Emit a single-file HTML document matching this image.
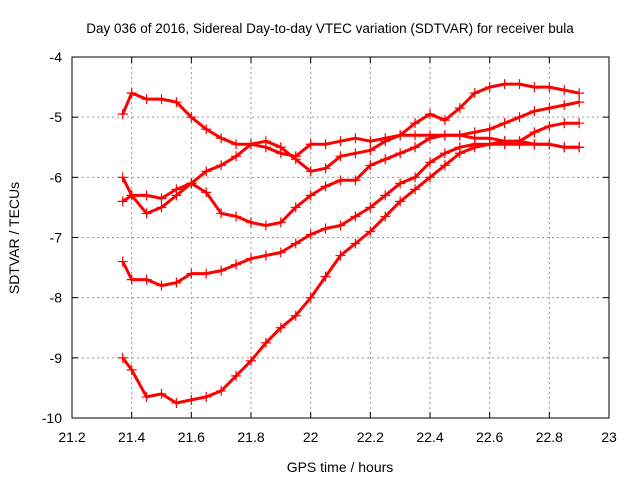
<!DOCTYPE html>
<html><head><meta charset="utf-8"><style>
body{margin:0;background:#fff;}
text{font-family:"Liberation Sans",sans-serif;font-size:14px;fill:#000;}
</style></head><body>
<svg id="chart" width="640" height="480">
<rect width="640" height="480" fill="#fff"/>
<text x="330" y="33" text-anchor="middle" style="font-size:13.5px">Day 036 of 2016, Sidereal Day-to-day VTEC variation (SDTVAR) for receiver bula</text>
<text x="340" y="472" text-anchor="middle">GPS time / hours</text>
<text transform="translate(19,238) rotate(-90)" text-anchor="middle">SDTVAR / TECUs</text>
<g id="grid"></g><g id="series"></g>
<rect x="72" y="57" width="537" height="361" fill="none" stroke="#000" stroke-width="1"/>
</svg>
<script>
const xTicks=[21.2,21.4,21.6,21.8,22,22.2,22.4,22.6,22.8,23];
const yTicks=[-4,-5,-6,-7,-8,-9,-10];
const times=[21.37,21.40,21.45,21.50,21.55,21.60,21.65,21.70,21.75,21.80,21.85,21.90,21.95,22.00,22.05,22.10,22.15,22.20,22.25,22.30,22.35,22.40,22.45,22.50,22.55,22.60,22.65,22.70,22.75,22.80,22.85,22.90];
const seriesA=[-4.95,-4.6,-4.7,-4.7,-4.75,-5.0,-5.2,-5.35,-5.45,-5.45,-5.5,-5.6,-5.65,-5.45,-5.45,-5.4,-5.35,-5.4,-5.35,-5.3,-5.3,-5.3,-5.3,-5.3,-5.35,-5.35,-5.4,-5.4,-5.45,-5.45,-5.5,-5.5];
const seriesB=[-6.4,-6.3,-6.3,-6.35,-6.2,-6.1,-5.9,-5.8,-5.65,-5.45,-5.4,-5.5,-5.7,-5.9,-5.85,-5.65,-5.6,-5.55,-5.4,-5.3,-5.1,-4.95,-5.05,-4.85,-4.6,-4.5,-4.45,-4.45,-4.5,-4.5,-4.55,-4.6];
const seriesC=[-6.0,-6.3,-6.6,-6.5,-6.3,-6.1,-6.25,-6.6,-6.65,-6.75,-6.8,-6.75,-6.5,-6.3,-6.15,-6.05,-6.05,-5.8,-5.7,-5.6,-5.5,-5.35,-5.3,-5.3,-5.25,-5.2,-5.1,-5.0,-4.9,-4.85,-4.8,-4.75];
const seriesD=[-7.4,-7.7,-7.7,-7.8,-7.75,-7.6,-7.6,-7.55,-7.45,-7.35,-7.3,-7.25,-7.1,-6.95,-6.85,-6.8,-6.65,-6.5,-6.3,-6.1,-6.0,-5.75,-5.6,-5.5,-5.45,-5.45,-5.4,-5.4,-5.25,-5.15,-5.1,-5.1];
const seriesE=[-9.0,-9.2,-9.65,-9.6,-9.75,-9.7,-9.65,-9.55,-9.3,-9.05,-8.75,-8.5,-8.3,-8.0,-7.65,-7.3,-7.1,-6.9,-6.65,-6.4,-6.2,-6.0,-5.8,-5.6,-5.5,-5.45,-5.45,-5.45,-5.45,-5.45,-5.5,-5.5];
const allSeries=[seriesA,seriesB,seriesC,seriesD,seriesE];
const NS='http://www.w3.org/2000/svg';
const X0=72,X1=609,Y0=418,Y1=57;
function xs(v){return X0+(v-21.2)/(23-21.2)*(X1-X0);}
function ys(v){return Y0-(v+10)/6*(Y0-Y1);}
const grid=document.getElementById('grid'),sg=document.getElementById('series');
function mk(tag,attrs,parent){const e=document.createElementNS(NS,tag);for(const k in attrs)e.setAttribute(k,attrs[k]);parent.appendChild(e);return e;}
xTicks.forEach(t=>{const x=xs(t);
 if(t>21.2&&t<23){const l=mk('line',{x1:x,x2:x,y1:Y1,y2:Y0,stroke:'#999','stroke-dasharray':'2,3'},grid);
 
 }
 mk('line',{x1:x,x2:x,y1:Y0,y2:Y0-6,stroke:'#000'},grid);mk('line',{x1:x,x2:x,y1:Y1,y2:Y1+6,stroke:'#000'},grid);
 const tx=mk('text',{x:x,y:Y0+24,'text-anchor':'middle'},grid);tx.textContent=String(t);
 
 });
yTicks.forEach(t=>{const y=ys(t);
 if(t>-10&&t<-4){const l=mk('line',{x1:X0,x2:X1,y1:y,y2:y,stroke:'#999','stroke-dasharray':'2,3'},grid);
 
 }
 mk('line',{x1:X0,x2:X0+6,y1:y,y2:y,stroke:'#000'},grid);mk('line',{x1:X1,x2:X1-6,y1:y,y2:y,stroke:'#000'},grid);
 const tx=mk('text',{x:X0-10,y:y+5,'text-anchor':'end'},grid);tx.textContent=String(t);
 
 });
allSeries.forEach((s,i)=>{
 const g=mk('g',{},sg);
 
 
 const pts=s.map((v,j)=>xs(times[j]).toFixed(1)+','+ys(v).toFixed(1)).join(' ');
 mk('polyline',{points:pts,fill:'none',stroke:'#f00','stroke-width':3,'stroke-linejoin':'round'},g);
 s.forEach((v,j)=>{const x=xs(times[j]),y=ys(v);
  const p=mk('path',{d:`M${x-5},${y}H${x+5}M${x},${y-5}V${y+5}`,stroke:'#f00','stroke-width':1.2},g);
  
  });
});
</script>
</body></html>
